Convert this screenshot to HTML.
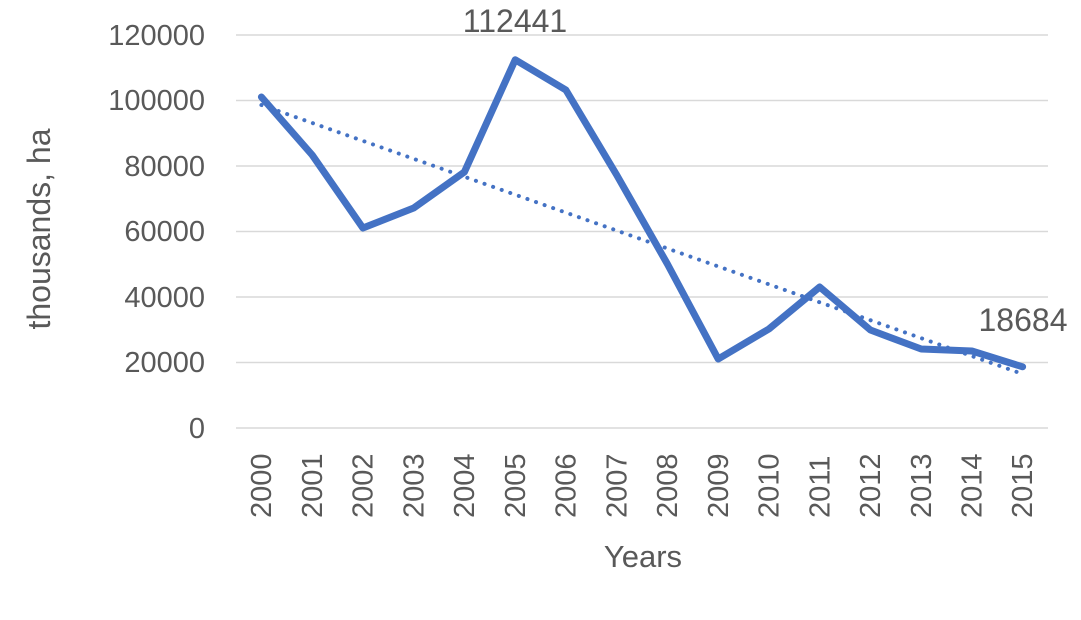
<!DOCTYPE html>
<html><head><meta charset="utf-8"><style>body{margin:0;background:#fff}</style></head><body>
<svg width="1081" height="615" xmlns="http://www.w3.org/2000/svg" font-family="Liberation Sans, sans-serif" fill="#595959">
<g stroke="#d9d9d9" stroke-width="1.5">
<line x1="236" y1="35" x2="1048" y2="35"/><line x1="236" y1="100.5" x2="1048" y2="100.5"/><line x1="236" y1="166" x2="1048" y2="166"/><line x1="236" y1="231.5" x2="1048" y2="231.5"/><line x1="236" y1="297" x2="1048" y2="297"/><line x1="236" y1="362.5" x2="1048" y2="362.5"/><line x1="236" y1="428" x2="1048" y2="428"/>
</g>
<g font-size="29" text-anchor="end">
<text x="205" y="45">120000</text><text x="205" y="110">100000</text><text x="205" y="176">80000</text><text x="205" y="241">60000</text><text x="205" y="307">40000</text><text x="205" y="372">20000</text><text x="205" y="438">0</text>
</g>
<text font-size="32" text-anchor="middle" transform="translate(50,229) rotate(-90)">thousands, ha</text>
<text font-size="31" text-anchor="middle" x="643" y="567">Years</text>
<line x1="261.4" y1="105" x2="1022.6" y2="374" stroke="#4472c4" stroke-width="4" stroke-dasharray="0.1 9" stroke-linecap="round"/>
<polyline fill="none" stroke="#4472c4" stroke-width="7" stroke-linejoin="round" stroke-linecap="round" points="261.4,97 312.2,155 362.9,228 413.7,208 464.4,172 515.2,59.8 565.9,90 616.7,175 667.4,264 718.2,359 768.9,329 819.7,287 870.4,330 921.2,349 971.9,351 1022.6,366.8"/>
<text font-size="32" text-anchor="middle" x="515" y="32">112441</text>
<text font-size="32" text-anchor="middle" x="1023" y="331">18684</text>
<g font-size="29">
<text transform="translate(271,518) rotate(-90)">2000</text>
<text transform="translate(321.8,518) rotate(-90)">2001</text>
<text transform="translate(372.5,518) rotate(-90)">2002</text>
<text transform="translate(423.3,518) rotate(-90)">2003</text>
<text transform="translate(474,518) rotate(-90)">2004</text>
<text transform="translate(524.8,518) rotate(-90)">2005</text>
<text transform="translate(575.5,518) rotate(-90)">2006</text>
<text transform="translate(626.3,518) rotate(-90)">2007</text>
<text transform="translate(677,518) rotate(-90)">2008</text>
<text transform="translate(727.8,518) rotate(-90)">2009</text>
<text transform="translate(778.5,518) rotate(-90)">2010</text>
<text transform="translate(829.3,518) rotate(-90)">2011</text>
<text transform="translate(880,518) rotate(-90)">2012</text>
<text transform="translate(930.8,518) rotate(-90)">2013</text>
<text transform="translate(981.5,518) rotate(-90)">2014</text>
<text transform="translate(1032.2,518) rotate(-90)">2015</text>
</g>
</svg>
</body></html>
